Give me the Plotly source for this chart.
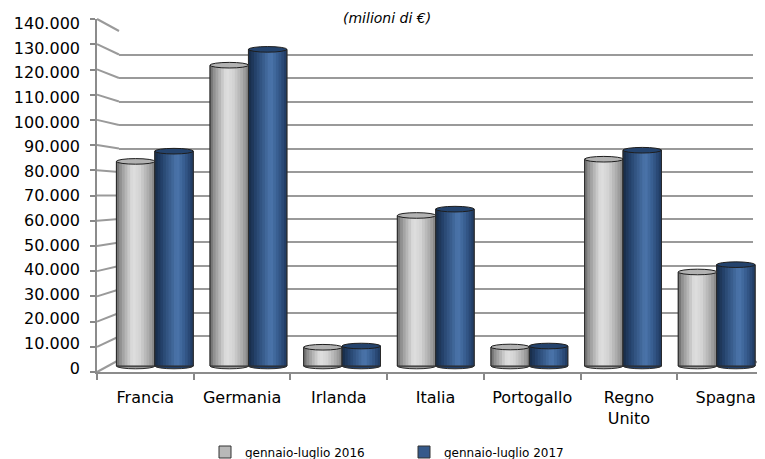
import plotly.graph_objects as go

# ---------------- data ----------------
categories = ["Francia", "Germania", "Irlanda", "Italia", "Portogallo", "Regno Unito", "Spagna"]
series_names = ["gennaio-luglio 2016", "gennaio-luglio 2017"]
values_2016 = [84000, 123500, 7700, 61800, 7800, 84900, 38600]
values_2017 = [88200, 130000, 8200, 64400, 8200, 88600, 41600]
y_ticks = [0, 10000, 20000, 30000, 40000, 50000, 60000, 70000,
           80000, 90000, 100000, 110000, 120000, 130000, 140000]
title_text = "(milioni di €)"

# ---------------- geometry (screen pixels; the page body adds an 8px offset) ----------------
W, H = 765, 459
OFF = 8
def px(x):
    return (x - OFF) / W
def py(y):
    return 1 - (y - OFF) / H

YMAX = 140000
# front plane (axis line + ticks)
FX0, FX1, FY0, FY1 = 97, 774, 372, 19
# tick labels (slightly compressed, as in the perspective drawing)
LY0, LY1, LX = 368, 23.5, 80
# back wall (gridlines)
BX0, BX1, BY0, BY1 = 119, 753, 360, 31
# middle depth (bars)
MX0, MX1, MY0, MY1 = 108, 763.5, 366, 25
mid_scale = (MY0 - MY1) / YMAX          # px per unit
y2_low = -2500
cat_px_front = (FX1 - FX0) / len(categories)
SCREEN_R = OFF + W

labels = [c.replace(" ", "<br>") for c in categories]
BAR_W = 0.41
N_STRIPES = 14
GRID = "#9a9a9a"

def lerp_color(stops, t):
    for k in range(len(stops) - 1):
        t0, c0 = stops[k]
        t1, c1 = stops[k + 1]
        if t0 <= t <= t1:
            f = (t - t0) / (t1 - t0) if t1 > t0 else 0
            c = [round(c0[i] + (c1[i] - c0[i]) * f) for i in range(3)]
            return "rgb(%d,%d,%d)" % tuple(c)
    c = stops[-1][1]
    return "rgb(%d,%d,%d)" % tuple(c)

gray_stops = [(0.0, (105, 105, 105)), (0.12, (150, 150, 150)), (0.42, (224, 224, 224)),
              (0.62, (210, 210, 210)), (0.85, (168, 168, 168)), (1.0, (128, 128, 128))]
blue_stops = [(0.0, (22, 42, 70)), (0.2, (38, 68, 110)), (0.58, (76, 118, 172)),
              (0.8, (52, 88, 138)), (1.0, (30, 56, 94))]

series = [
    dict(name=series_names[0], values=values_2016, offset=-BAR_W, stops=gray_stops,
         base="#b8b8b8", top="#b2b2b2", bottom="#9a9a9a"),
    dict(name=series_names[1], values=values_2017, offset=0.0, stops=blue_stops,
         base="#35598a", top="#24436d", bottom="#22406a"),
]

fig = go.Figure()

# back wall subplot (x / y) : gridlines only
fig.add_trace(go.Scatter(x=[0.5], y=[None], xaxis="x", yaxis="y", mode="markers",
                         showlegend=False, hoverinfo="skip"))

# bars subplot (x2 / y2)
for s in series:
    fig.add_trace(go.Bar(
        x=labels, y=s["values"], name=s["name"], xaxis="x2", yaxis="y2",
        width=BAR_W, offset=s["offset"], marker=dict(color=s["base"], line=dict(color="#333333", width=1)),
        showlegend=True, hoverinfo="x+y"))
    for j in range(N_STRIPES):
        t = (j + 0.5) / N_STRIPES
        sw = BAR_W / N_STRIPES
        width = sw * 1.3 if j < N_STRIPES - 1 else sw
        fig.add_trace(go.Bar(
            x=labels, y=s["values"], xaxis="x2", yaxis="y2",
            width=width, offset=s["offset"] + j * sw,
            marker=dict(color=lerp_color(s["stops"], t), line=dict(width=0)),
            showlegend=False, hoverinfo="skip"))
    fig.add_trace(go.Bar(
        x=labels, y=s["values"], xaxis="x2", yaxis="y2",
        width=BAR_W, offset=s["offset"],
        marker=dict(color="rgba(0,0,0,0)", line=dict(color="#2a2a2a", width=1)),
        showlegend=False, hoverinfo="skip"))

# front plane subplot (x3 / y3): axis lines and ticks; y4 carries the value labels
fig.add_trace(go.Scatter(x=labels, y=[None] * len(labels), xaxis="x3", yaxis="y3",
                         mode="markers", showlegend=False, hoverinfo="skip"))
fig.add_trace(go.Scatter(x=labels, y=[None] * len(labels), xaxis="x3", yaxis="y4",
                         mode="markers", showlegend=False, hoverinfo="skip"))

shapes = []
dh = 2.8 / mid_scale
for s in series:
    for i, v in enumerate(s["values"]):
        x0 = i + s["offset"]
        x1 = x0 + BAR_W
        shapes.append(dict(type="circle", xref="x2", yref="y2", x0=x0, x1=x1,
                           y0=-dh, y1=dh, fillcolor=s["bottom"],
                           line=dict(color="#2a2a2a", width=1), layer="below"))
        shapes.append(dict(type="circle", xref="x2", yref="y2", x0=x0, x1=x1,
                           y0=v - dh, y1=v + dh, fillcolor=s["top"],
                           line=dict(color="#1e1e1e", width=1), layer="above"))

# side wall lines from the front ticks to the back gridlines
for v in y_ticks:
    yf = FY0 - v / YMAX * (FY0 - FY1)
    yb = BY0 - v / YMAX * (BY0 - BY1)
    shapes.append(dict(type="line", xref="paper", yref="paper",
                       x0=px(FX0), y0=py(yf), x1=px(BX0), y1=py(yb),
                       line=dict(color=GRID, width=2), layer="below"))
shapes.append(dict(type="line", xref="paper", yref="paper",
                   x0=px(BX1), y0=py(BY0), x1=px(FX1), y1=py(FY0),
                   line=dict(color=GRID, width=2), layer="below"))

fig.update_layout(
    width=W, height=H,
    margin=dict(l=0, r=0, t=0, b=0, autoexpand=False),
    paper_bgcolor="white", plot_bgcolor="rgba(0,0,0,0)",
    separators=",.",
    font=dict(family="DejaVu Sans", size=16, color="black"),
    barmode="overlay",
    showlegend=True,
    shapes=shapes,
    xaxis=dict(domain=[px(BX0), px(BX1)], range=[0, 1], visible=False, fixedrange=True),
    yaxis=dict(domain=[py(BY0), py(BY1)], range=[-60, YMAX + 60], anchor="x",
               tickvals=y_ticks, showticklabels=False, ticks="",
               showgrid=True, gridcolor=GRID, gridwidth=2,
               zeroline=False, showline=False),
    xaxis2=dict(domain=[px(MX0), px(MX1)], range=[-0.5, len(categories) - 0.5], anchor="y2",
                type="category", categoryorder="array", categoryarray=labels,
                visible=False),
    yaxis2=dict(domain=[py(MY0 + (-y2_low) * mid_scale), py(MY1)], range=[y2_low, YMAX],
                anchor="x2", visible=False),
    xaxis3=dict(domain=[px(FX0), 1], range=[-0.5, -0.5 + (SCREEN_R - FX0) / cat_px_front], anchor="y3",
                type="category", categoryorder="array", categoryarray=labels,
                tickson="boundaries", ticks="outside", ticklen=6, tickcolor="#888888", tickwidth=1.5,
                showline=True, linecolor="#8c8c8c", linewidth=2, showgrid=False, zeroline=False,
                tickfont=dict(size=16, color="black"), ticklabelstandoff=10),
    yaxis3=dict(domain=[py(FY0), py(FY1)], range=[-40, YMAX + 40], anchor="x3",
                tickvals=y_ticks, showticklabels=False, ticks="outside", ticklen=5,
                tickcolor="#888888", tickwidth=1.5,
                showline=True, linecolor="#8c8c8c", linewidth=2, showgrid=False, zeroline=False),
    yaxis4=dict(domain=[py(LY0), py(LY1)], range=[-40, YMAX + 40], anchor="free",
                position=px(LX), side="left",
                tickvals=y_ticks, tickformat=",d", ticks="", showline=False, showgrid=False,
                zeroline=False, tickfont=dict(size=16, color="black")),
    legend=dict(orientation="h", x=px(205), y=py(452), xanchor="left", yanchor="middle",
                font=dict(size=12, color="black"), bgcolor="rgba(0,0,0,0)",
                entrywidth=154, entrywidthmode="pixels", traceorder="normal"),
    annotations=[dict(text="<i>" + title_text + "</i>", xref="paper", yref="paper",
                      x=px(387), y=1, xanchor="center", yanchor="top",
                      showarrow=False, font=dict(size=14, color="black"))],
)

fig.write_html("out.html")
